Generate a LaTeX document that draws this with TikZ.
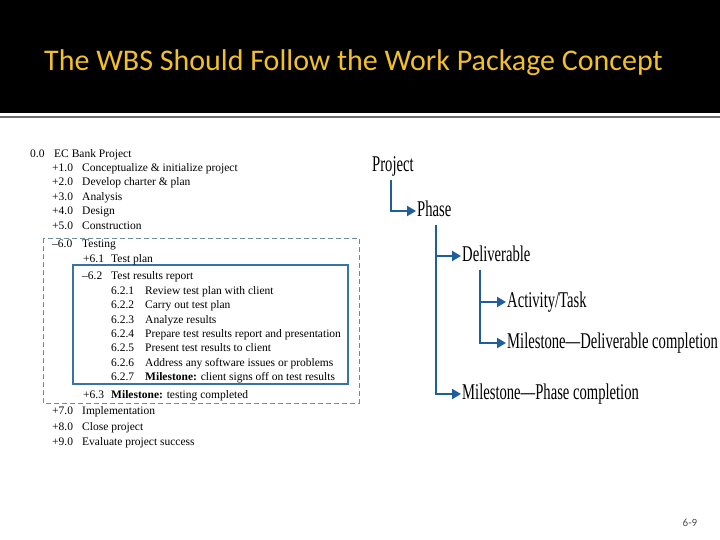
\documentclass[tikz,border=0pt]{standalone}
\usepackage{fontspec}
\setmainfont{Liberation Serif}
\newfontfamily\condfont{Liberation Serif}[FakeStretch=0.65]
\newfontfamily\titlefont{Carlito}
\usetikzlibrary{arrows.meta}
\definecolor{titlegold}{RGB}{242,192,40}
\definecolor{arrblue}{RGB}{30,95,155}
\definecolor{boxblue}{RGB}{55,115,165}
\definecolor{dashblue}{RGB}{110,138,160}
\tikzset{
  lt/.style={anchor=west, inner sep=0pt, font=\fontsize{11.5}{13}\selectfont, text height=8pt, text depth=2.5pt},
  rt/.style={anchor=west, inner sep=1pt, font=\condfont\fontsize{22.5}{26}\selectfont, text height=15pt, text depth=4pt},
  arr/.style={draw=arrblue, line width=2.3pt, -{Triangle[length=9pt,width=10pt]}},
}
\begin{document}
\begin{tikzpicture}[x=1pt,y=-1pt]
\useasboundingbox (0,0) rectangle (720,540);
\fill[white] (0,0) rectangle (720,540);
% header
\fill[black] (0,0) rectangle (720,113);
\draw[color={rgb,255:red,110;green,110;blue,110}, line width=1.5pt] (0,117) -- (720,117);
\node[anchor=base west, inner sep=0pt, text=titlegold, font=\titlefont\fontsize{30}{33}\selectfont] (title) at (44,71) {The WBS Should Follow the Work Package Concept};

% frames
\draw[dashblue, dashed, line width=1pt, dash pattern=on 5pt off 3pt] (43,238) rectangle (359,403);
\draw[boxblue, line width=1.4pt] (73,265) rectangle (348,384);

% left list
\node[lt] (n00) at (30,155) {0.0};  \node[lt] (t00) at (54,155) {EC Bank Project};
\node[lt] (n10) at (52,169) {+1.0}; \node[lt] (t10) at (82,169) {Conceptualize \& initialize project};
\node[lt] (n20) at (52,183) {+2.0}; \node[lt] (t20) at (82,183) {Develop charter \& plan};
\node[lt] (n30) at (52,198) {+3.0}; \node[lt] (t30) at (82,198) {Analysis};
\node[lt] (n40) at (52,212) {+4.0}; \node[lt] (t40) at (82,212) {Design};
\node[lt] (n50) at (52,227) {+5.0}; \node[lt] (t50) at (82,227) {Construction};
\node[lt] (n60) at (52,245) {–6.0}; \node[lt] (t60) at (82,245) {Testing};
\node[lt] (n61) at (83,260) {+6.1}; \node[lt] (t61) at (111,260) {Test plan};
\node[lt] (n62) at (82,277) {–6.2}; \node[lt] (t62) at (111,277) {Test results report};
\node[lt] (n621) at (111,292) {6.2.1}; \node[lt] (t621) at (145,292) {Review test plan with client};
\node[lt] (n622) at (111,306) {6.2.2}; \node[lt] (t622) at (145,306) {Carry out test plan};
\node[lt] (n623) at (111,321) {6.2.3}; \node[lt] (t623) at (145,321) {Analyze results};
\node[lt] (n624) at (111,335) {6.2.4}; \node[lt] (t624) at (145,335) {Prepare test results report and presentation};
\node[lt] (n625) at (111,349) {6.2.5}; \node[lt] (t625) at (145,349) {Present test results to client};
\node[lt] (n626) at (111,364) {6.2.6}; \node[lt] (t626) at (145,364) {Address any software issues or problems};
\node[lt] (n627) at (111,378) {6.2.7}; \node[lt] (t627) at (145,378) {\textbf{Milestone:} client signs off on test results};
\node[lt] (n63) at (83,396) {+6.3}; \node[lt] (t63) at (111,396) {\textbf{Milestone:} testing completed};
\node[lt] (n70) at (52,412) {+7.0}; \node[lt] (t70) at (82,412) {Implementation};
\node[lt] (n80) at (52,428) {+8.0}; \node[lt] (t80) at (82,428) {Close project};
\node[lt] (n90) at (52,443) {+9.0}; \node[lt] (t90) at (82,443) {Evaluate project success};

% right hierarchy
\node[rt] (project) at (371,166) {Project};
\node[rt] (phase) at (416,211) {Phase};
\node[rt] (deliv) at (461,256) {Deliverable};
\node[rt] (task) at (506,302) {Activity/Task};
\node[rt] (mdeliv) at (506,343) {Milestone—Deliverable completion};
\node[rt] (mphase) at (461,394) {Milestone—Phase completion};

\draw[arr] ([xshift=20pt,yshift=-3pt]project.south west) |- (phase.west);
\draw[arr] ([xshift=20pt,yshift=-3pt]phase.south west) |- (deliv.west);
\draw[arr] ([xshift=20pt,yshift=-3pt]phase.south west) |- (mphase.west);
\draw[arr] ([xshift=19pt,yshift=-3pt]deliv.south west) |- (task.west);
\draw[arr] ([xshift=19pt,yshift=-3pt]deliv.south west) |- (mdeliv.west);

% page number
\node[anchor=center, inner sep=0pt, text={rgb,255:red,80;green,80;blue,80}, font=\titlefont\fontsize{11}{12}\selectfont] (pnum) at (690,523) {6-9};
\end{tikzpicture}
\end{document}
